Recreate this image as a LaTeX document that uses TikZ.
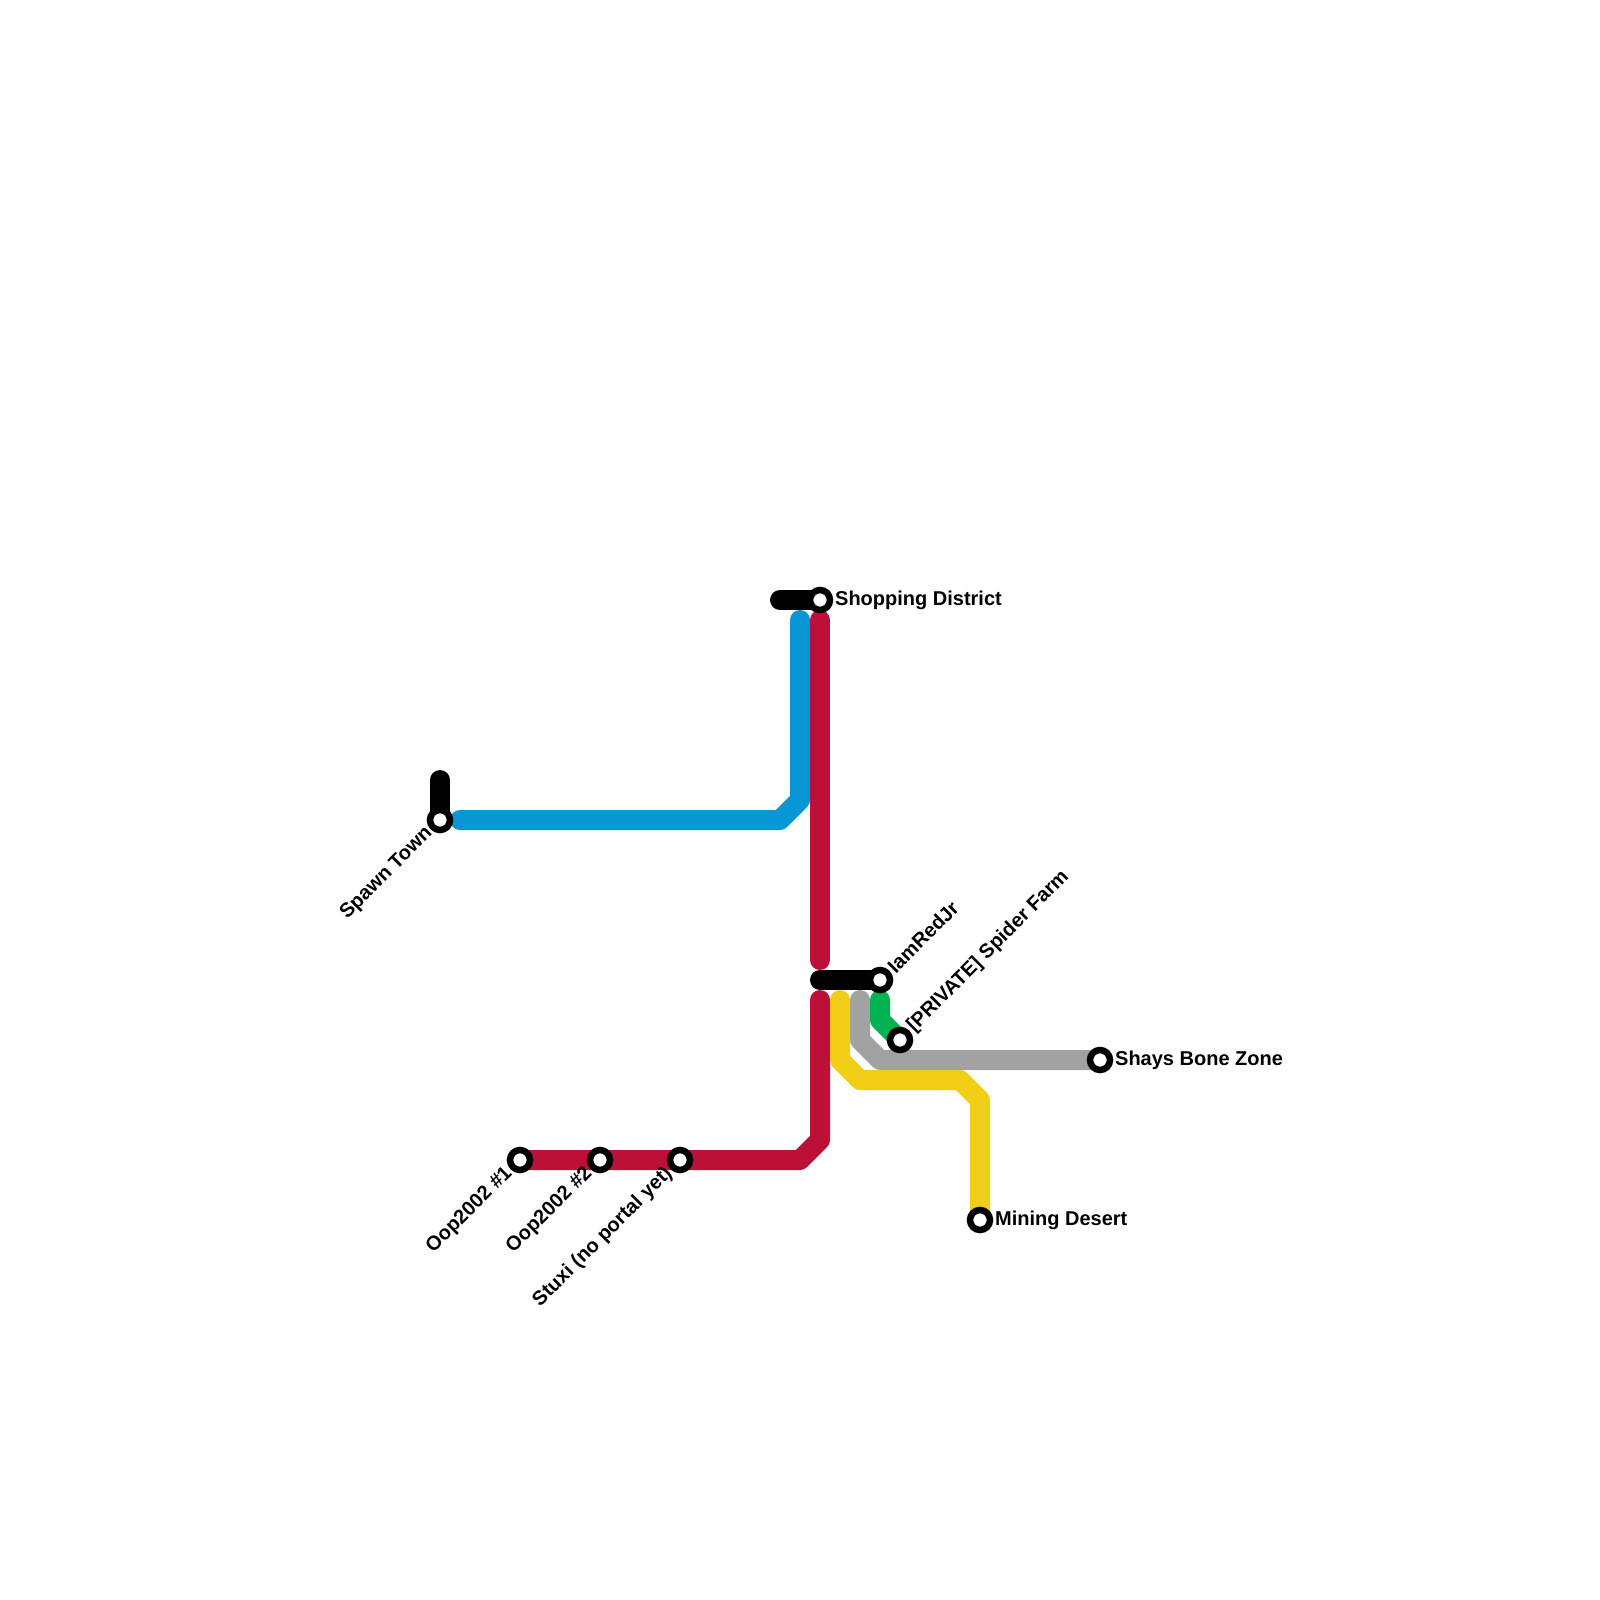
\documentclass[tikz,border=0pt]{standalone}
\usepackage{fontspec}
\setmainfont{Liberation Sans}
\usetikzlibrary{backgrounds}

\definecolor{linered}{HTML}{BD1038}
\definecolor{lineblue}{HTML}{0896D7}
\definecolor{lineyellow}{HTML}{F0CE15}
\definecolor{linegray}{HTML}{A2A2A2}
\definecolor{linegreen}{HTML}{00B251}

\tikzset{
    metro/.style={line width=20pt,line cap=round,line join=round},
    station/.style={circle,draw=black,fill=white,line width=6.5pt,minimum size=20pt,inner sep=0pt},
    stationlabel/.style={font=\fontsize{20}{20}\selectfont\bfseries,text=black,inner sep=1.7pt},
    risinglabel/.style={stationlabel,rotate=45}
}

\begin{document}
\begin{tikzpicture}[x=1pt,y=-1pt]
    \useasboundingbox (0,0) rectangle (1600,1600);

    \foreach \name/\x/\y in {spawn/440/820,shopping/820/600,redjr/880/980,spider/900/1040,
        shays/1100/1060,mining/980/1220,oopone/520/1160,ooptwo/600/1160,stuxi/680/1160}{
        \node[station] (\name) at (\x,\y) {};
    }

    \node[stationlabel,anchor=west] (shoppinglabel) at (shopping.east) {Shopping District};
    \node[stationlabel,anchor=west] (shayslabel) at (shays.east) {Shays Bone Zone};
    \node[stationlabel,anchor=west] (mininglabel) at (mining.east) {Mining Desert};
    \node[risinglabel,anchor=west] (redjrlabel) at (redjr.north east) {IamRedJr};
    \node[risinglabel,anchor=west] (spiderlabel) at (spider.north east) {[PRIVATE] Spider Farm};
    \node[risinglabel,anchor=east] (spawnlabel) at (spawn.south west) {Spawn Town};
    \node[risinglabel,anchor=east] (ooponelabel) at (oopone.south west) {Oop2002 \#1};
    \node[risinglabel,anchor=east] (ooptwolabel) at (ooptwo.south west) {Oop2002 \#2};
    \node[risinglabel,anchor=east] (stuxilabel) at (stuxi.south west) {Stuxi (no portal yet)};

    % free ends of the lines
    \coordinate (spawnstub) at (440,780);
    \coordinate (shoppingstub) at (780,600);
    \coordinate (hubstub) at (820,980);
    \coordinate (bluewest) at (460,820);
    \coordinate (bluenorth) at (800,620);
    \coordinate (rednorth) at (820,620);
    \coordinate (redmid) at (820,960);
    \coordinate (redsouth) at (820,1000);
    \coordinate (yellowtop) at (840,1000);
    \coordinate (graytop) at (860,1000);
    \coordinate (greentop) at (880,1000);

    \begin{scope}[on background layer]
        \draw[metro,black] (spawnstub) -- (spawn.center);
        \draw[metro,black] (shoppingstub) -- (shopping.center);
        \draw[metro,black] (hubstub) -- (redjr.center);
        \draw[metro,lineblue] (bluewest) -- (780,820) -- (800,800) -- (bluenorth);
        \draw[metro,linered] (rednorth) -- (redmid);
        \draw[metro,linered] (redsouth) -- (820,1140) -- (800,1160) -- (stuxi.center)
            -- (ooptwo.center) -- (oopone.center);
        \draw[metro,lineyellow] (yellowtop) -- (840,1060) -- (860,1080) -- (960,1080)
            -- (980,1100) -- (mining.center);
        \draw[metro,linegray] (graytop) -- (860,1040) -- (880,1060) -- (shays.center);
        \draw[metro,linegreen] (greentop) -- (880,1020) -- (spider.center);
    \end{scope}
\end{tikzpicture}
\end{document}
